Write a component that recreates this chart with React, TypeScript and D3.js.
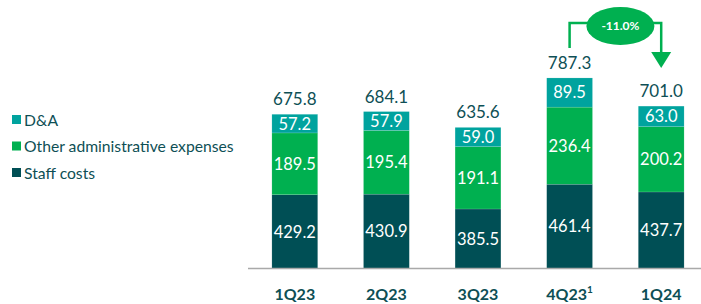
import React from "react";
import * as d3 from "d3";

const categories = ["1Q23", "2Q23", "3Q23", "4Q23", "1Q24"];
const staffCosts = [429.2, 430.9, 385.5, 461.4, 437.7];
const otherAdmin = [189.5, 195.4, 191.1, 236.4, 200.2];
const dna = [57.2, 57.9, 59.0, 89.5, 63.0];
const totals = [675.8, 684.1, 635.6, 787.3, 701.0];
const seriesNames = ["Staff costs", "Other administrative expenses", "D&A"];
const legendOrder = ["D&A", "Other administrative expenses", "Staff costs"];
const changeLabel = "-11.0%";

const colors: Record<string, string> = {
  "Staff costs": "#004f55",
  "Other administrative expenses": "#00b050",
  "D&A": "#00a39e",
};
const textColor = "#0e4f55";
const font = "Lato, 'Open Sans', sans-serif";

export default function App() {
  const W = 701, H = 304;
  const x = d3.scaleBand().domain(categories).range([249, 707]).paddingInner(0.5).paddingOuter(0.25);
  const y = d3.scaleLinear().domain([203, 800]).range([268.5, 73.8]);
  const rows = categories.map((c, i) => ({ c, "Staff costs": staffCosts[i], "Other administrative expenses": otherAdmin[i], "D&A": dna[i] }));
  const stack = d3.stack<any>().keys(seriesNames)(rows);
  const bw = x.bandwidth();
  const cx = (c: string) => (x(c) as number) + bw / 2;

  const xa = cx("4Q23"), xb = cx("1Q24");
  const ellCx = (xa + xb) / 2 + 5, ellCy = 26;
  const lineY = 23;

  return (
    <svg width={W} height={H} style={{ position: "absolute", left: 0, top: 0 }} fontFamily={font}>
      {stack.map((s) => (
        <g key={s.key}>
          {s.map((d, i) => {
            const c = categories[i];
            const y0 = y(Math.max(d[0], 203));
            const y1 = y(d[1]);
            return (
              <g key={c}>
                <rect x={x(c)} y={y1} width={bw} height={y0 - y1} fill={colors[s.key]} stroke="#ffffff" strokeOpacity={0.25} strokeWidth={0.5} />
                <text x={cx(c)} y={(y0 + y1) / 2} dy="0.36em" textAnchor="middle" fill="#fff" fontSize={16.5}>
                  {(d[1] - d[0]).toFixed(1)}
                </text>
              </g>
            );
          })}
        </g>
      ))}
      {categories.map((c, i) => (
        <text key={c} x={cx(c)} y={y(totals[i]) - 9} textAnchor="middle" fill={textColor} fontSize={17}>
          {totals[i].toFixed(1)}
        </text>
      ))}
      <line x1={248} x2={W} y1={268.5} y2={268.5} stroke="#a9a9a9" strokeWidth={1.5} />
      {categories.map((c) => (
        <text key={c} x={cx(c)} y={300} textAnchor="middle" fill={textColor} fontSize={16} fontWeight={700}>
          {c}
          {c === "4Q23" ? <tspan dy={-7} fontSize={10}>1</tspan> : null}
        </text>
      ))}
      {legendOrder.map((n, i) => (
        <g key={n} transform={`translate(12, ${120 + i * 26.5})`}>
          <rect x={0} y={-5} width={9} height={9} fill={colors[n]} />
          <text x={12} y={0} dy="0.35em" fill={textColor} fontSize={15.7}>{n}</text>
        </g>
      ))}
      <g stroke="#00b050" strokeWidth={2.5} fill="none">
        <polyline points={`${xa},${48} ${xa},${lineY} ${ellCx - 30},${lineY}`} />
        <polyline points={`${ellCx + 30},${lineY} ${xb},${lineY} ${xb},${54}`} />
      </g>
      <polygon points={`${xb - 10},${52} ${xb + 10},${52} ${xb},${68}`} fill="#00b050" />
      <ellipse cx={ellCx} cy={ellCy} rx={34} ry={19} fill="#00b050" />
      <text x={ellCx} y={ellCy} dy="0.35em" textAnchor="middle" fill="#fff" fontSize={12} fontWeight={700}>{changeLabel}</text>
    </svg>
  );
}
